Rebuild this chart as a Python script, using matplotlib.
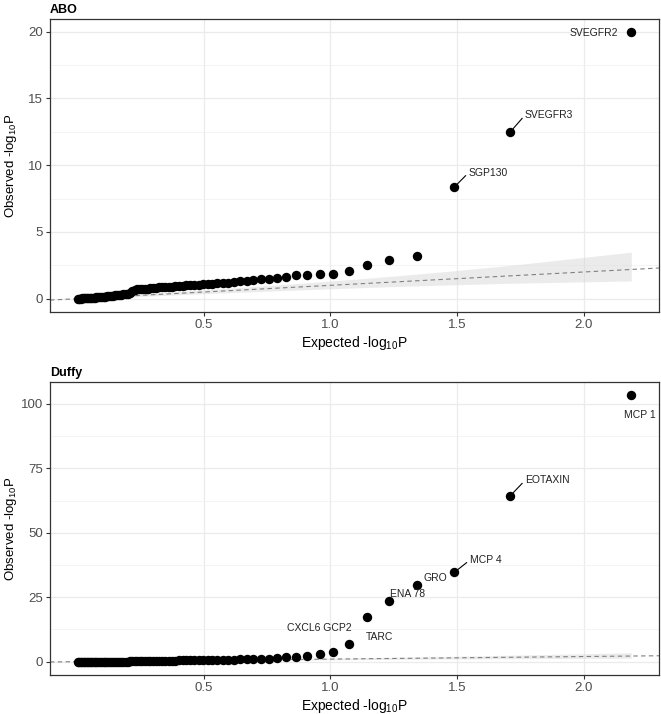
import math
import numpy as np
import matplotlib
matplotlib.use("Agg")
import matplotlib.pyplot as plt
from matplotlib.ticker import MultipleLocator, FixedLocator

plt.rcParams['font.family'] = ['Liberation Sans', 'DejaVu Sans']
plt.rcParams['mathtext.default'] = 'regular'

# ---------------- data (observed -log10 P, sorted descending) ----------------
abo_obs = [19.95, 12.5, 8.35, 3.2, 2.89, 2.53, 2.10, 1.86, 1.84, 1.76,
           1.74, 1.66, 1.56, 1.48, 1.45, 1.41, 1.33, 1.30, 1.23, 1.20,
           1.17, 1.14, 1.12, 1.10, 1.07, 1.05, 1.03, 1.01, 0.99, 0.97,
           0.95, 0.93, 0.91, 0.89, 0.88, 0.86, 0.84, 0.82, 0.80, 0.78,
           0.76, 0.74, 0.73, 0.71, 0.69, 0.66, 0.60, 0.42, 0.38, 0.35,
           0.33, 0.31, 0.29, 0.27, 0.25, 0.23, 0.21, 0.19, 0.17, 0.16,
           0.15, 0.13, 0.12, 0.10, 0.09, 0.08, 0.07, 0.06, 0.05, 0.04,
           0.035, 0.03, 0.02, 0.015, 0.01, 0.005, 0.0]
abo_labels = ["SVEGFR2", "SVEGFR3", "SGP130"]

duffy_obs = [103.3, 64.4, 34.6, 29.7, 23.6, 17.5, 6.9, 3.7, 3.0, 2.3,
             1.95, 1.65, 1.4, 1.2, 1.05, 0.95, 0.9, 0.85, 0.8, 0.75,
             0.7, 0.67, 0.64, 0.6, 0.57, 0.55, 0.52, 0.5, 0.48, 0.47,
             0.46, 0.45, 0.44, 0.43, 0.42, 0.41, 0.40, 0.38, 0.36, 0.35,
             0.33, 0.32, 0.30, 0.10, 0.09, 0.09, 0.08, 0.08, 0.07, 0.07,
             0.06, 0.06, 0.05, 0.05, 0.05, 0.04, 0.04, 0.04, 0.03, 0.03,
             0.03, 0.03, 0.02, 0.02, 0.02, 0.02, 0.01, 0.01, 0.01, 0.01,
             0.01, 0.005, 0.005, 0.005, 0.0, 0.0, 0.0]
duffy_labels = ["MCP 1", "EOTAXIN", "MCP 4", "GRO", "ENA 78", "CXCL6 GCP2", "TARC"]

panel_titles = ["ABO", "Duffy"]

# label text placement (data coords of text anchor) and whether a segment is drawn
abo_label_pos = [(2.038, 19.9, False), (1.768, 13.75, True), (1.545, 9.43, True)]
duffy_label_pos = [(2.22, 95.5, False), (1.768, 70.3, True), (1.549, 39.3, True),
                   (1.415, 32.6, False), (1.304, 26.2, False), (0.955, 13.1, False),
                   (1.193, 9.5, False)]


def ppoints(n):
    a = 3.0 / 8 if n <= 10 else 0.5
    return (np.arange(1, n + 1) - a) / (n + 1 - 2 * a)


def beta_cdf_int(x, a, b):
    m = a + b - 1
    s = 0.0
    for j in range(a, m + 1):
        s += math.comb(m, j) * x ** j * (1 - x) ** (m - j)
    return s


def beta_ppf_int(p, a, b):
    lo, hi = 0.0, 1.0
    for _ in range(80):
        mid = 0.5 * (lo + hi)
        if beta_cdf_int(mid, a, b) < p:
            lo = mid
        else:
            hi = mid
    return 0.5 * (lo + hi)


def qq_frame(obs):
    obs = np.sort(np.asarray(obs, dtype=float))[::-1]
    n = len(obs)
    expected = -np.log10(ppoints(n))
    lower = np.array([-np.log10(beta_ppf_int(0.025, i, n - i + 1)) for i in range(1, n + 1)])
    upper = np.array([-np.log10(beta_ppf_int(0.975, i, n - i + 1)) for i in range(1, n + 1)])
    return expected, obs, lower, upper


W, H = 661, 714
fig = plt.figure(figsize=(W / 100, H / 100), dpi=100)

panels = [
    (abo_obs, abo_labels, abo_label_pos, [50, 19, 659, 312], 5, 2.5),
    (duffy_obs, duffy_labels, duffy_label_pos, [50, 382, 659, 675], 25, 12.5),
]

for k, (obs, labels, lpos, box, major, minor) in enumerate(panels):
    l, t, r, b = box
    ax = fig.add_axes([l / W, 1 - b / H, (r - l) / W, (b - t) / H])
    ex, ob, lo, up = qq_frame(obs)

    ax.fill_between(ex, up, lo, color='#D9D9D9', alpha=0.5, lw=0, zorder=1)
    ax.axline((0, 0), slope=1, color='#808080', lw=0.8, ls=(0, (4, 3)), zorder=2)
    ax.scatter(ex, ob, s=46, color='black', lw=0, zorder=3)

    for j, name in enumerate(labels):
        tx, ty, seg = lpos[j]
        if seg:
            ax.annotate(name, xy=(ex[j], ob[j]), xytext=(tx, ty), ha='left', va='center',
                        fontsize=7.5, color='#222222', zorder=4,
                        arrowprops=dict(arrowstyle='-', color='black', lw=0.8,
                                        shrinkA=0, shrinkB=3, relpos=(0, 0.5)))
        else:
            ax.text(tx, ty, name, ha='center', va='center', fontsize=7.5,
                    color='#222222', zorder=4)

    ymax = max(ob)
    pad = 0.05 * ymax
    ax.set_ylim(-pad, ymax + pad)
    xr = ex.max() - ex.min()
    ax.set_xlim(ex.min() - 0.05 * xr, ex.max() + 0.05 * xr)

    ax.xaxis.set_major_locator(FixedLocator([0.5, 1.0, 1.5, 2.0]))
    ax.set_xticklabels(['0.5', '1.0', '1.5', '2.0'])
    ax.yaxis.set_major_locator(MultipleLocator(major))
    ax.yaxis.set_minor_locator(MultipleLocator(minor))
    ax.grid(which='major', color='#EBEBEB', lw=0.9, zorder=0)
    ax.grid(which='minor', axis='y', color='#F2F2F2', lw=0.6, zorder=0)
    ax.set_axisbelow(True)
    ax.tick_params(which='major', length=3, width=0.8, color='#333333',
                   labelsize=9.5, labelcolor='#4D4D4D', pad=2)
    ax.tick_params(which='minor', length=0)
    for s in ax.spines.values():
        s.set_color('#333333')
        s.set_linewidth(0.9)

    ax.set_xlabel('Expected -log$_{10}$P', fontsize=10, color='black', labelpad=2)
    ax.set_ylabel('Observed -log$_{10}$P', fontsize=9.5, color='black')
    ax.yaxis.set_label_coords((19 - l) / (r - l), 0.5)
    ax.set_title(panel_titles[k], loc='left', fontsize=9, fontweight='bold', pad=4)

fig.savefig('out.png', dpi=100)
